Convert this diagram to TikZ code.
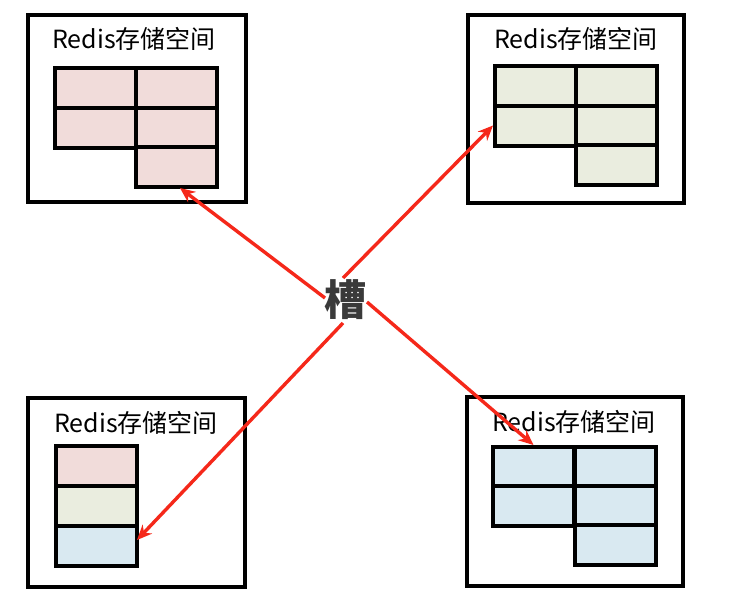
\documentclass[tikz,border=0pt]{standalone}
\usepackage{fontspec}
\newfontfamily\cjk{Noto Sans CJK SC}
\usetikzlibrary{arrows.meta}
\definecolor{cpink}{HTML}{F1DCDA}
\definecolor{cgreen}{HTML}{EAEDDF}
\definecolor{cblue}{HTML}{D9E9F1}
\definecolor{cred}{HTML}{F5281A}
\definecolor{cdark}{HTML}{3A3A3A}
\begin{document}
\begin{tikzpicture}[x=1pt,y=-1pt,
  outerbox/.style={draw=black,line width=3.6pt,minimum width=#1,inner sep=0pt},
  cellbox/.style={draw=black,line width=4pt,fill=#1,minimum width=81pt,minimum height=40pt,inner sep=0pt},
  title/.style={font=\cjk\fontsize{25}{27}\selectfont,inner sep=0pt},
  arr/.style={draw=cred,line width=3.4pt,-{Stealth[length=15pt,width=13pt]}}]
\useasboundingbox (0,0) rectangle (733,606);
\fill[white] (0,0) rectangle (733,606);
% outer boxes
\node[outerbox=218pt,minimum height=187pt] (b1) at (137,108.5) {};
\node[outerbox=216pt,minimum height=188pt] (b2) at (576,109) {};
\node[outerbox=217pt,minimum height=189pt] (b3) at (136.5,492.5) {};
\node[outerbox=216pt,minimum height=189pt] (b4) at (575,491.5) {};
% titles
\node[title] (t1) at (134,39) {Redis存储空间};
\node[title] (t2) at (576,39) {Redis存储空间};
\node[title] (t3) at (136,423) {Redis存储空间};
\node[title] (t4) at (574,422) {Redis存储空间};
% top-left cells
\node[cellbox=cpink] (a1) at (95.5,88) {};
\node[cellbox=cpink] (a2) at (176.5,88) {};
\node[cellbox=cpink] (a3) at (95.5,127.5) {};
\node[cellbox=cpink] (a4) at (176.5,127.5) {};
\node[cellbox=cpink] (a5) at (176.5,167) {};
% top-right cells
\node[cellbox=cgreen] (g1) at (535.5,86) {};
\node[cellbox=cgreen] (g2) at (616,86) {};
\node[cellbox=cgreen] (g3) at (535.5,125.5) {};
\node[cellbox=cgreen] (g4) at (616,125.5) {};
\node[cellbox=cgreen] (g5) at (616,164.5) {};
% bottom-left cells
\node[cellbox=cpink] (m1) at (96.5,466) {};
\node[cellbox=cgreen] (m2) at (96.5,506) {};
\node[cellbox=cblue] (m3) at (96.5,545.5) {};
% bottom-right cells
\node[cellbox=cblue] (u1) at (533.5,467) {};
\node[cellbox=cblue] (u2) at (615,467) {};
\node[cellbox=cblue] (u3) at (533.5,506) {};
\node[cellbox=cblue] (u4) at (615,506) {};
\node[cellbox=cblue] (u5) at (615,545) {};
% arrows
\coordinate (s1) at (325,298);
\coordinate (s2) at (343,278);
\coordinate (s3) at (343,323);
\coordinate (s4) at (367,302);
\coordinate (e1) at (180,188);
\coordinate (e3) at (137,540);
\draw[arr] (s1) -- (e1);
\draw[arr] (s2) -- (g3.west);
\draw[arr] (s3) -- (e3);
\draw[arr] (s4) -- (u1.north);
% centre label
\node[font=\cjk\bfseries\fontsize{42}{46}\selectfont,text=cdark,inner sep=0pt] (slot) at (345,300) {槽};
\end{tikzpicture}
\end{document}
